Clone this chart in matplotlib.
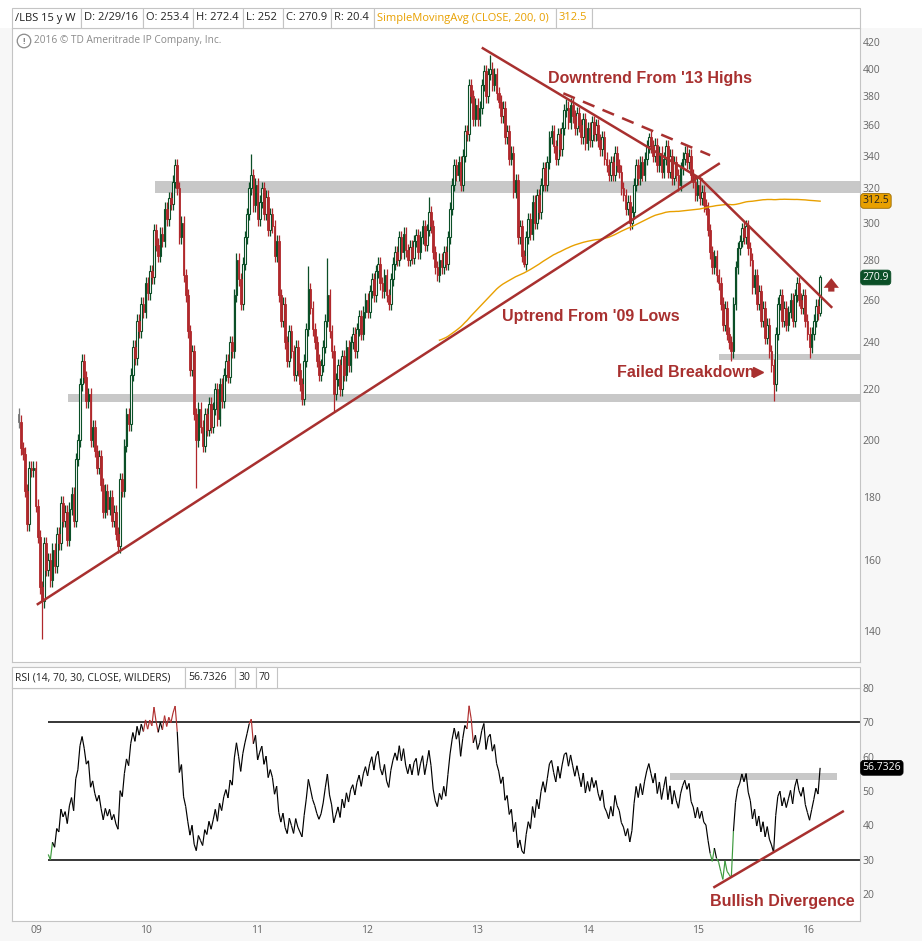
import numpy as np
import pandas as pd
import matplotlib
matplotlib.use('Agg')
import matplotlib.pyplot as plt
import matplotlib.dates as mdates
from matplotlib.patches import Rectangle
from matplotlib.collections import LineCollection
from matplotlib.ticker import NullLocator, NullFormatter

# Weekly closes of /LBS (Nov 2008 - Feb 2016)
closes = [
    207, 197, 195, 182, 171, 190, 189, 190, 177, 167,
    152, 148, 165, 157, 160, 154, 163, 158, 168, 165,
    178, 172, 175, 166, 176, 181, 172, 193, 200, 222,
    232, 225, 215, 218, 200, 205, 196, 190, 194, 184,
    175, 182, 176, 180, 172, 175, 168, 164, 186, 182,
    198, 210, 206, 226, 238, 233, 250, 245, 258, 254,
    268, 263, 274, 271, 296, 288, 282, 294, 290, 308,
    302, 314, 311, 324, 334, 320, 292, 300, 272, 262,
    245, 228, 236, 210, 200, 212, 205, 198, 210, 204,
    214, 205, 212, 220, 208, 222, 215, 226, 232, 225,
    240, 236, 262, 280, 270, 258, 278, 292, 305, 320,
    328, 310, 322, 302, 312, 320, 305, 315, 296, 305,
    298, 282, 290, 262, 250, 258, 240, 232, 245, 236,
    226, 238, 228, 222, 216, 232, 246, 265, 256, 246,
    240, 232, 226, 230, 238, 250, 262, 245, 236, 218,
    224, 230, 220, 234, 226, 238, 230, 240, 244, 236,
    246, 252, 244, 254, 260, 254, 264, 270, 262, 274,
    278, 268, 264, 272, 262, 258, 270, 278, 284, 280,
    292, 284, 294, 285, 280, 287, 281, 290, 293, 284,
    292, 298, 288, 296, 306, 298, 284, 276, 272, 280,
    276, 284, 278, 292, 308, 322, 334, 328, 336, 322,
    340, 356, 354, 388, 380, 364, 374, 364, 372, 388,
    398, 380, 396, 400, 388, 396, 382, 376, 366, 372,
    352, 356, 338, 342, 318, 325, 292, 298, 282, 278,
    292, 302, 294, 312, 300, 316, 306, 322, 332, 322,
    336, 352, 356, 346, 338, 354, 344, 358, 370, 372,
    362, 374, 366, 358, 368, 360, 352, 364, 348, 358,
    350, 362, 354, 360, 350, 344, 352, 338, 334, 328,
    336, 328, 342, 334, 330, 320, 316, 308, 312, 300,
    306, 322, 334, 326, 336, 328, 338, 346, 352, 346,
    340, 347, 334, 342, 330, 338, 346, 330, 340, 326,
    336, 328, 322, 332, 338, 342, 336, 340, 328, 324,
    316, 322, 314, 318, 310, 308, 296, 284, 276, 282,
    272, 268, 258, 248, 256, 244, 240, 236, 258, 276,
    286, 290, 297, 292, 298, 286, 280, 266, 272, 258,
    264, 250, 256, 242, 248, 236, 230, 222, 244, 258,
    262, 250, 256, 248, 254, 260, 250, 262, 268, 260,
    256, 262, 250, 244, 238, 244, 250, 257, 253.4, 270.9,
]
first_open = 210
# wicks that stand out on the chart (week index -> price)
extra_high = {74: 338, 110: 341, 137: 277, 146: 281, 194: 315, 223: 410,
              259: 378, 298: 355, 342: 300, 379: 272.4}
extra_low = {11: 138, 84: 183, 149: 211, 198: 269, 239: 276, 289: 296,
             337: 232, 357: 215, 374: 233, 379: 252}

last_date = '2016-02-29'
sma_label = '312.5'
rsi_label = '56.7326'

# trend lines (date, price)
uptrend = [('2009-01-23', 147.1), ('2015-04-03', 335.3)]
down_a = [('2013-02-04', 416.0), ('2015-02-05', 325.0)]
down_b = [('2015-01-22', 327.0), ('2016-04-09', 256.0)]
down_dash = [('2013-11-01', 382.0), ('2015-03-02', 340.3)]
bands = [('2010-02-18', 317.0, 324.5), ('2009-05-06', 214.8, 218.0),
         ('2015-03-31', 232.2, 234.7)]
rsi_band = ('2014-10-20', '2016-04-26', 53.2, 55.2)
rsi_div = [('2015-03-16', 22.0), ('2016-05-14', 44.0)]

RED = '#b0282c'
GREEN = '#0b4f27'
ANN = '#a8302f'
ORANGE = '#e8a000'
GRAY_TXT = '#666666'
FRAME = '#c4c4c4'

W, H = 922, 941
def fx(x):
    return x / W
def fy(y):
    return 1 - y / H

closes = np.array(closes, dtype=float)
n = len(closes)
dates = pd.date_range(end=last_date, periods=n, freq='W-MON')
xd = mdates.date2num(dates)
opens = np.concatenate([[first_open], closes[:-1]])
highs = np.maximum(opens, closes) * 1.012
lows = np.minimum(opens, closes) * 0.988
for k, v in extra_high.items():
    highs[k] = v
for k, v in extra_low.items():
    lows[k] = v

# 200 week SMA and Wilder RSI(14) from the closes
sma = pd.Series(closes).rolling(200).mean().values
d = np.diff(closes)
up = np.clip(d, 0, None)
dn = np.clip(-d, 0, None)
rsi = np.full(n, np.nan)
au, ad = up[:14].mean(), dn[:14].mean()
rsi[14] = 100 - 100 / (1 + au / ad)
for i in range(14, len(d)):
    au = (au * 13 + up[i]) / 14
    ad = (ad * 13 + dn[i]) / 14
    rsi[i + 1] = 100 - 100 / (1 + au / ad)

fig = plt.figure(figsize=(9.22, 9.41), dpi=100, facecolor='#f7f7f7')
fig.patches.append(Rectangle((0, fy(28)), 1, 1 - fy(28), transform=fig.transFigure,
                             fc='white', ec='none', zorder=0))
ax = fig.add_axes([fx(12), fy(662), fx(860) - fx(12), fy(28) - fy(662)])
rx = fig.add_axes([fx(12), fy(921), fx(860) - fx(12), fy(688) - fy(921)], sharex=ax)

def dn_(s):
    return mdates.date2num(pd.Timestamp(s))

# price panel
ax.set_yscale('log')
ax.set_ylim(132.2, 431.5)
ax.set_xlim(dn_('2008-11-02'), dn_('2016-07-10'))
for start, lo, hi in bands:
    ax.fill_between([dn_(start), ax.get_xlim()[1]], lo, hi, color='#c8c8c8', lw=0, zorder=1)

upm = closes > opens
cols = np.where(upm, GREEN, RED).astype(object)
cols[0] = '#777777'
ax.vlines(xd, lows, highs, colors=list(cols), lw=0.9, zorder=2)
body_lo = np.minimum(opens, closes)
body_h = np.maximum(np.abs(closes - opens), 0.6)
ax.bar(xd[upm], body_h[upm], bottom=body_lo[upm], width=5.5, facecolor='white',
       edgecolor=GREEN, lw=0.8, zorder=3)
ax.bar(xd[~upm], body_h[~upm], bottom=body_lo[~upm], width=5.5, facecolor=list(cols[~upm]),
       edgecolor=list(cols[~upm]), lw=0.6, zorder=3)
ax.plot(xd, sma, color=ORANGE, lw=1.0, zorder=4)

for seg, ls in [(uptrend, '-'), (down_a, '-'), (down_b, '-'), (down_dash, (0, (5, 3.5)))]:
    ax.plot([dn_(p[0]) for p in seg], [p[1] for p in seg], color=ANN, lw=1.8,
            ls=ls, zorder=5, solid_capstyle='butt')

tf = dict(color=ANN, fontsize=11.5, fontweight='bold', family='Liberation Sans', zorder=6)
ax.text(dn_('2014-08-15'), 393, "Downtrend From '13 Highs", ha='center', va='center', **tf)
ax.text(dn_('2014-02-01'), 252.1, "Uptrend From '09 Lows", ha='center', va='center', **tf)
ax.text(dn_('2015-07-28'), 227.1, "Failed Breakdown", ha='right', va='center', **tf)
ax.plot([dn_('2015-08-06')], [227.1], marker='>', ms=7, color=ANN, zorder=6)
ax.annotate('', xy=(dn_('2016-04-06'), 272.0), xytext=(dn_('2016-04-06'), 262.5),
            arrowprops=dict(arrowstyle='simple,head_width=1.1,head_length=0.7,tail_width=0.45',
                            color=ANN, lw=0, mutation_scale=10), zorder=6)

ax.yaxis.tick_right()
ax.set_yticks(np.arange(140, 421, 20))
ax.set_yticklabels([str(v) for v in range(140, 421, 20)])
ax.yaxis.set_minor_locator(NullLocator())
ax.yaxis.set_minor_formatter(NullFormatter())
ax.tick_params(axis='y', length=0, pad=2, labelsize=7.5, labelcolor=GRAY_TXT)
ax.tick_params(axis='x', length=0, labelbottom=False)
for s in ax.spines.values():
    s.set_color(FRAME)
    s.set_linewidth(0.8)

box = dict(boxstyle='round,pad=0.18,rounding_size=0.3', lw=0.6)
ytr = ax.get_yaxis_transform()
ax.text(1.003, float(sma_label), sma_label, transform=ytr, va='center', ha='left', fontsize=7.5,
        family='Open Sans', color='#222222', bbox=dict(fc=ORANGE, ec='#9a6a00', **box), clip_on=False)
ax.text(1.003, closes[-1], f'{closes[-1]:.1f}', transform=ytr, va='center', ha='left', fontsize=7.5,
        family='Open Sans', color='white', bbox=dict(fc=GREEN, ec=GREEN, **box), clip_on=False)

# rsi panel
rx.set_ylim(12.1, 79.65)
rx.hlines([30, 70], xd[14], rx.get_xlim()[1], color='black', lw=1.1, zorder=2)
rx.fill_between([dn_(rsi_band[0]), dn_(rsi_band[1])], rsi_band[2], rsi_band[3],
                color='#c8c8c8', lw=0, zorder=1)
pts = np.column_stack([xd[14:], rsi[14:]])
segs = np.stack([pts[:-1], pts[1:]], axis=1)
r0, r1 = rsi[14:-1], rsi[15:]
seg_cols = np.where((r0 > 70) | (r1 > 70), '#b03030',
                    np.where((r0 < 30) | (r1 < 30), '#3d9a3d', 'black'))
rx.add_collection(LineCollection(segs, colors=list(seg_cols), lw=0.85, zorder=3))
rx.plot([dn_(p[0]) for p in rsi_div], [p[1] for p in rsi_div], color=ANN, lw=1.8, zorder=4)
rx.text(dn_('2015-10-26'), 17.9, 'Bullish Divergence', ha='center', va='center', **tf)

rx.yaxis.tick_right()
rx.set_yticks([20, 30, 40, 50, 60, 70, 80])
rx.tick_params(axis='y', length=0, pad=2, labelsize=7.5, labelcolor=GRAY_TXT)
rx.set_xticks([dn_(f'{y}-01-01') for y in range(2009, 2017)])
rx.set_xticklabels([f'{y % 100:02d}' for y in range(2009, 2017)], ha='left')
rx.tick_params(axis='x', length=0, pad=3, labelsize=7.5, labelcolor=GRAY_TXT)
for s in rx.spines.values():
    s.set_color(FRAME)
    s.set_linewidth(0.8)
rx.text(1.003, float(rsi_label), rsi_label, transform=rx.get_yaxis_transform(), va='center',
        ha='left', fontsize=7.5, family='Open Sans', color='white',
        bbox=dict(fc='black', ec='black', **box), clip_on=False)
for lab in ax.get_yticklabels() + rx.get_yticklabels() + rx.get_xticklabels():
    lab.set_family('Open Sans')

# header rows
def cells(row, y0, y1, size):
    for x0, x1, txt, col in row:
        fig.patches.append(Rectangle((fx(x0), fy(y1)), fx(x1) - fx(x0), fy(y0) - fy(y1),
                                     transform=fig.transFigure, fc='white', ec=FRAME, lw=0.8))
        fig.text(fx(x0 + 3), fy((y0 + y1) / 2), txt, color=col, fontsize=size,
                 family='Open Sans', va='center', ha='left')

o, h, l, c = opens[-1], highs[-1], lows[-1], closes[-1]
top_row = [(12, 81, '/LBS 15 y W', '#222222'),
           (81, 143, 'D: ' + f'{dates[-1].month}/{dates[-1].day}/{dates[-1].year % 100}', '#222222'),
           (143, 193, f'O: {o:g}', '#222222'), (193, 243, f'H: {h:g}', '#222222'),
           (243, 283, f'L: {l:g}', '#222222'), (283, 331, f'C: {c:g}', '#222222'),
           (331, 374, f'R: {h - l:.1f}', '#222222'),
           (374, 556, 'SimpleMovingAvg (CLOSE, 200, 0)', ORANGE),
           (556, 592, sma_label, ORANGE), (592, 860, '', 'black')]
cells(top_row, 8, 28, 8.0)
rsi_row = [(12, 185, 'RSI (14, 70, 30, CLOSE, WILDERS)', '#222222'),
           (185, 235, rsi_label, '#222222'), (235, 256, '30', '#222222'),
           (256, 277, '70', '#222222')]
fig.patches.append(Rectangle((fx(12), fy(688)), fx(860) - fx(12), fy(667) - fy(688),
                             transform=fig.transFigure, fc='white', ec=FRAME, lw=0.8))
cells(rsi_row, 667, 688, 7.5)

fig.text(fx(34), fy(41), '2016 \u00a9 TD Ameritrade IP Company, Inc.', color='#8a8a8a',
         fontsize=7.3, family='Open Sans', va='center', ha='left')
fig.text(fx(24), fy(41), '!', color='#8a8a8a', fontsize=6.5, family='Open Sans',
         fontweight='bold', va='center', ha='center',
         bbox=dict(boxstyle='circle,pad=0.25', fc='none', ec='#8a8a8a', lw=0.9))

fig.savefig('out.png', dpi=100, facecolor=fig.get_facecolor())
